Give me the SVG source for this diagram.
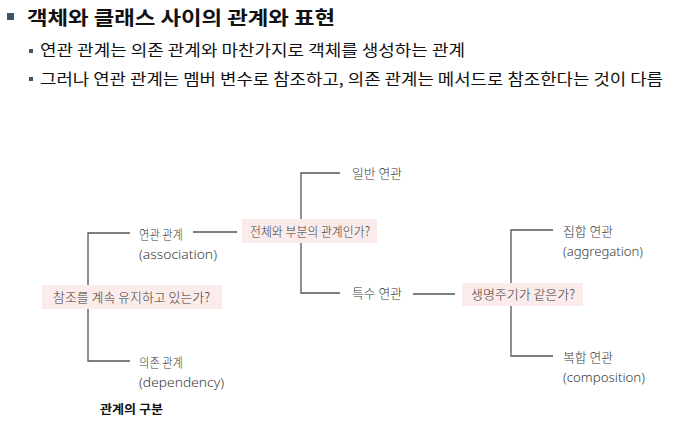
<svg xmlns="http://www.w3.org/2000/svg" width="677" height="425" viewBox="0 0 677 425">
<style>
.h{font-family:"Noto Sans CJK KR","Noto Sans",sans-serif;fill:#111}
.t{font-family:"Noto Sans CJK KR","Noto Sans",sans-serif;font-size:13px;fill:#3a3a3a;font-weight:300}
.e{font-family:"Noto Sans","Noto Sans CJK KR",sans-serif;font-size:13.5px;fill:#3a3a3a;font-weight:300}
.box{fill:#fbeceb}
.ln{stroke:#555;stroke-width:1.3;fill:none}
</style>
<rect width="677" height="425" fill="#fff"/>
<g id="header">
<rect x="7" y="13" width="7" height="7" fill="#3f5566"/>
<text class="h" x="27" y="25" font-size="19" font-weight="bold" textLength="308" lengthAdjust="spacingAndGlyphs">객체와 클래스 사이의 관계와 표현</text>
<rect x="29" y="49" width="4" height="4" fill="#3f5566"/>
<text class="h" x="40" y="56" font-size="15.5" textLength="425" lengthAdjust="spacingAndGlyphs">연관 관계는 의존 관계와 마찬가지로 객체를 생성하는 관계</text>
<rect x="29" y="77" width="4" height="4" fill="#3f5566"/>
<text class="h" x="40" y="85" font-size="15.5" textLength="623" lengthAdjust="spacingAndGlyphs">그러나 연관 관계는 멤버 변수로 참조하고, 의존 관계는 메서드로 참조한다는 것이 다름</text>
</g>
<g id="connectors">
<path class="ln" d="M130 233 H88 V285 M88 309 V361 H130"/>
<path class="ln" d="M193 232 H237"/>
<path class="ln" d="M340 173 H301 V219 M301 243 V293 H340"/>
<path class="ln" d="M413 294 H455"/>
<path class="ln" d="M553 230 H511 V283 M511 306 V356 H553"/>
</g>
<g id="q1">
<rect class="box" x="42" y="285" width="180" height="24"/>
<text class="t" x="53" y="302" textLength="157" lengthAdjust="spacingAndGlyphs">참조를 계속 유지하고 있는가?</text>
</g>
<g id="association">
<text class="t" x="139" y="239" textLength="44" lengthAdjust="spacingAndGlyphs">연관 관계</text>
<text class="e" x="139" y="259" textLength="78" lengthAdjust="spacingAndGlyphs">(association)</text>
</g>
<g id="dependency">
<text class="t" x="139" y="367" textLength="44" lengthAdjust="spacingAndGlyphs">의존 관계</text>
<text class="e" x="139" y="387" textLength="85" lengthAdjust="spacingAndGlyphs">(dependency)</text>
</g>
<g id="q2">
<rect class="box" x="242" y="219" width="135" height="24"/>
<text class="t" x="250" y="236" textLength="120" lengthAdjust="spacingAndGlyphs">전체와 부분의 관계인가?</text>
</g>
<g id="general">
<text class="t" x="352" y="178" textLength="50" lengthAdjust="spacingAndGlyphs">일반 연관</text>
</g>
<g id="special">
<text class="t" x="352" y="298" textLength="50" lengthAdjust="spacingAndGlyphs">특수 연관</text>
</g>
<g id="q3">
<rect class="box" x="462" y="283" width="121" height="23"/>
<text class="t" x="471" y="299" textLength="104" lengthAdjust="spacingAndGlyphs">생명주기가 같은가?</text>
</g>
<g id="aggregation">
<text class="t" x="563" y="236" textLength="50" lengthAdjust="spacingAndGlyphs">집합 연관</text>
<text class="e" x="563" y="256" textLength="80" lengthAdjust="spacingAndGlyphs">(aggregation)</text>
</g>
<g id="composition">
<text class="t" x="563" y="362" textLength="50" lengthAdjust="spacingAndGlyphs">복합 연관</text>
<text class="e" x="563" y="382" textLength="82" lengthAdjust="spacingAndGlyphs">(composition)</text>
</g>
<g id="caption">
<text class="h" x="100" y="414" font-size="12.5" font-weight="bold" fill="#333" textLength="63" lengthAdjust="spacingAndGlyphs">관계의 구분</text>
</g>
</svg>
